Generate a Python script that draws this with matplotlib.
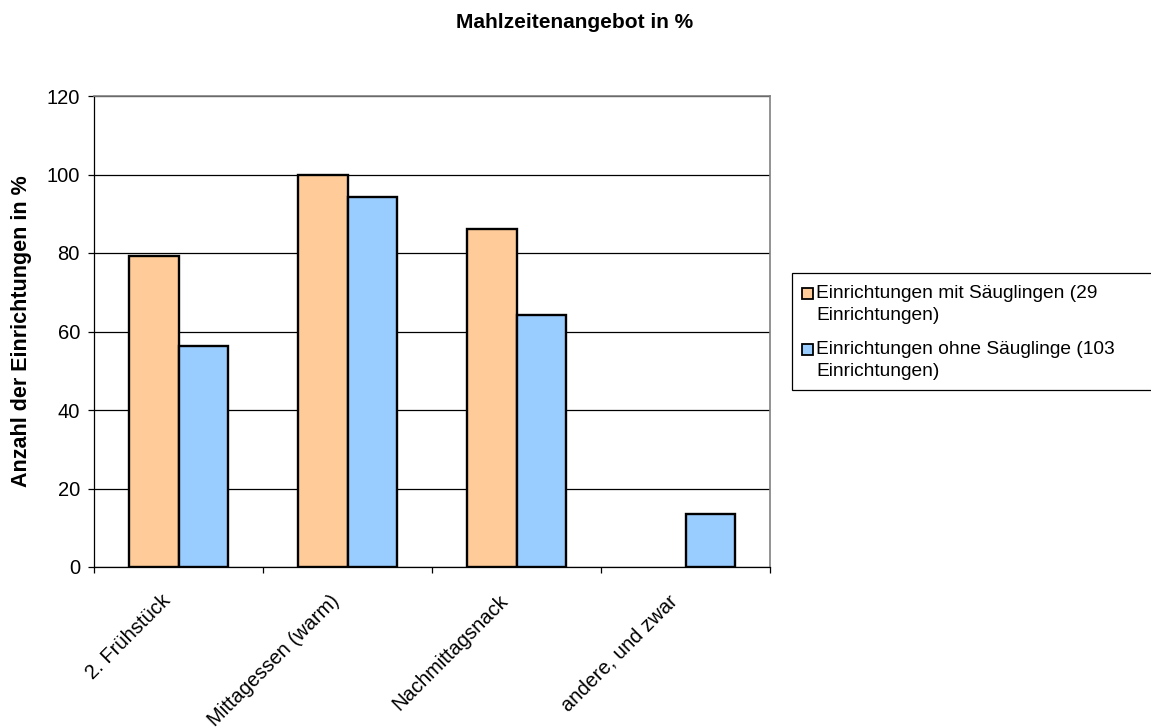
import matplotlib.pyplot as plt
import numpy as np
from matplotlib.patches import Rectangle
from matplotlib.transforms import ScaledTranslation

plt.rcParams['font.family'] = ['Liberation Sans', 'DejaVu Sans']

categories = ["2. Frühstück", "Mittagessen (warm)", "Nachmittagsnack", "andere, und zwar"]
mit_saeuglingen = [79.3, 100.0, 86.2, 0.0]
ohne_saeuglinge = [56.3, 94.2, 64.1, 13.6]
series_labels = [["Einrichtungen mit Säuglingen (29", "Einrichtungen)"],
                 ["Einrichtungen ohne Säuglinge (103", "Einrichtungen)"]]
colors = ["#FFCC99", "#99CCFF"]

W, H = 1151, 728
fig = plt.figure(figsize=(W / 100, H / 100), dpi=100)
ax = fig.add_axes([94 / W, 1 - 567 / H, 676 / W, 471 / H])

x = np.arange(len(categories))
w = 0.29
for offset, values, color in [(-w / 2, mit_saeuglingen, colors[0]), (w / 2, ohne_saeuglinge, colors[1])]:
    lws = [1.7 if v > 0 else 0 for v in values]
    ax.bar(x + offset, values, w, color=color, edgecolor="black", linewidth=lws, zorder=3)

ax.set_xlim(-0.5, len(categories) - 0.5)
ax.set_ylim(0, 120)
ax.set_yticks(np.arange(0, 121, 20))
ax.yaxis.grid(True, color="black", linewidth=0.9, zorder=0)
ax.set_axisbelow(True)

# category boundaries carry the tick marks, centres carry the labels
ax.set_xticks(np.arange(-0.5, len(categories), 1.0))
ax.set_xticklabels([])
ax.set_xticks(x, minor=True)
ax.set_xticklabels(categories, minor=True, rotation=45, ha="right", va="top",
                   rotation_mode="anchor", fontsize=14.5)
ax.tick_params(axis="x", which="minor", length=0, pad=0)
ax.tick_params(axis="x", which="major", length=6 * 0.72, width=0.9, direction="out")
ax.tick_params(axis="y", length=6 * 0.72, width=0.9, direction="out", labelsize=14.5, pad=5.8)
shift = ScaledTranslation(-18 / 100, -24 / 100, fig.dpi_scale_trans)
for lab in ax.get_xticklabels(minor=True):
    lab.set_transform(lab.get_transform() + shift)

for side in ["top", "right"]:
    ax.spines[side].set_color("#808080")
    ax.spines[side].set_linewidth(1.2)
for side in ["left", "bottom"]:
    ax.spines[side].set_color("black")
    ax.spines[side].set_linewidth(0.9)

fig.text(22 / W, 1 - 331 / H, "Anzahl der Einrichtungen in %", rotation=90,
         ha="center", va="center", fontsize=15.5, fontweight="bold")
fig.text(575 / W, 1 - 23 / H, "Mahlzeitenangebot in %", ha="center", va="center",
         fontsize=15, fontweight="bold")

# legend box, running past the right edge of the figure
fig.patches.append(Rectangle((792 / W, 1 - 390 / H), 400 / W, 117 / H, transform=fig.transFigure,
                             facecolor="white", edgecolor="black", linewidth=0.9))
entry_tops = [288, 344]
for top, color, lines in zip(entry_tops, colors, series_labels):
    fig.patches.append(Rectangle((802 / W, 1 - (top + 11) / H), 11 / W, 11 / H,
                                 transform=fig.transFigure, facecolor=color,
                                 edgecolor="black", linewidth=1.3))
    for i, line in enumerate(lines):
        fig.text(816 / W, 1 - (top + 10 + 22 * i) / H, line, ha="left", va="baseline",
                 fontsize=13.8)

fig.savefig("out.png", dpi=100)
